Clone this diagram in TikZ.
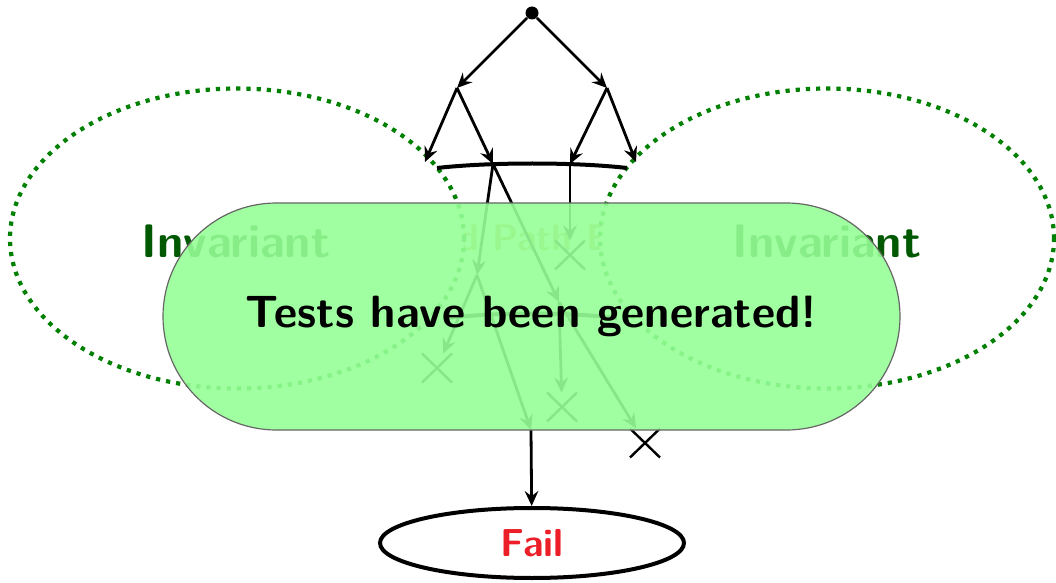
\documentclass[tikz,border=0pt]{standalone}
\usepackage{fontspec}
\usetikzlibrary{arrows.meta,shapes.geometric,shapes.misc}
\definecolor{invborder}{RGB}{0,128,0}
\definecolor{invtext}{RGB}{0,88,0}
\definecolor{pathcol}{RGB}{200,175,90}
\definecolor{donefill}{RGB}{150,255,150}
\definecolor{failred}{RGB}{236,30,40}
\begin{document}
\begin{tikzpicture}[x=0.5pt,y=-0.5pt,
  every node/.style={font=\sffamily\bfseries},
  edge/.style={line width=1.4pt,-{Stealth[length=7.5pt,width=6.8pt,inset=2.6pt]}},
  xmark/.style={cross out,draw,line width=1.2pt,minimum width=12pt,minimum height=11.5pt,inner sep=0pt,outer sep=1.5pt},
  region/.style={ellipse,draw=invborder,fill=white,line width=2.1pt,
    dash pattern=on 2.1pt off 3pt,minimum width=227pt,minimum height=150pt,inner sep=0pt},
  invlabel/.style={text=invtext,anchor=base,font=\sffamily\bfseries\fontsize{23.5}{28}\selectfont},
  frontier/.style={line width=2pt},
]
\useasboundingbox (0,0) rectangle (1056,583);

% centre label, mostly hidden behind the two regions
\node[text=pathcol,anchor=base,font=\sffamily\bfseries\fontsize{18.5}{22}\selectfont]
  (explore) at (532.5,250) {\llap{Bounded }Path\rlap{ Exploration}};

% invariant regions
\node[region] (invL) at (237,238.5) {};
\node[region] (invR) at (827,238.5) {};
\node[invlabel] (labL) at (236,257) {Invariant};
\node[invlabel] (labR) at (827,257) {Invariant};

% frontiers between the regions
\coordinate (f1a) at (437,168);
\coordinate (f1b) at (627,168);
\coordinate (f2a) at (447,318);
\coordinate (f2b) at (617,318);
\draw[frontier] (f1a) .. controls (490,162) and (575,162) .. (f1b);
\draw[frontier] (f2a) .. controls (500,312) and (565,312) .. (f2b);

% execution tree
\node[circle,fill,inner sep=0pt,minimum size=6.5pt] (root) at (532,13) {};
\coordinate (l) at (457,88);
\coordinate (r) at (607,88);
\coordinate (ll) at (425,162);
\coordinate (rr) at (636,162);
\coordinate (lr) at (493,164);
\coordinate (rl) at (570,164);
\coordinate (a) at (477,275);
\coordinate (b) at (559,302);
\coordinate (c) at (531,430);
\node[xmark] (x1) at (570,255) {};
\node[xmark] (x2) at (437,368) {};
\node[xmark] (x3) at (562,407) {};
\node[xmark] (x4) at (645,443) {};

\draw[edge] (root) -- (l);
\draw[edge] (root) -- (r);
\draw[edge] (l) -- (ll);
\draw[edge] (l) -- (lr);
\draw[edge] (r) -- (rl);
\draw[edge] (r) -- (rr);
\draw[edge] (lr) -- (a);
\draw[edge] (lr) -- (b);
\draw[edge] (rl) -- (x1);
\draw[edge] (a) -- (x2);
\draw[edge] (a) -- (c);
\draw[edge] (b) -- (x3);
\draw[edge] (b) -- (x4);

% failing state
\node[ellipse,draw,line width=2pt,minimum width=152pt,minimum height=35pt,inner sep=0pt,
  text=failred,font=\sffamily\bfseries\fontsize{19.5}{23}\selectfont] (fail) at (532,543) {Fail};
\draw[edge] (c) -- (fail);

% result banner
\node[rounded rectangle,draw=black!60,line width=0.6pt,fill=donefill,fill opacity=0.9,text opacity=1,
  minimum width=368.5pt,minimum height=113.5pt,inner sep=0pt,
  font=\sffamily\bfseries\fontsize{22.6}{27}\selectfont] (done) at (531.5,316.5) {Tests have been generated!};
\end{tikzpicture}
\end{document}
